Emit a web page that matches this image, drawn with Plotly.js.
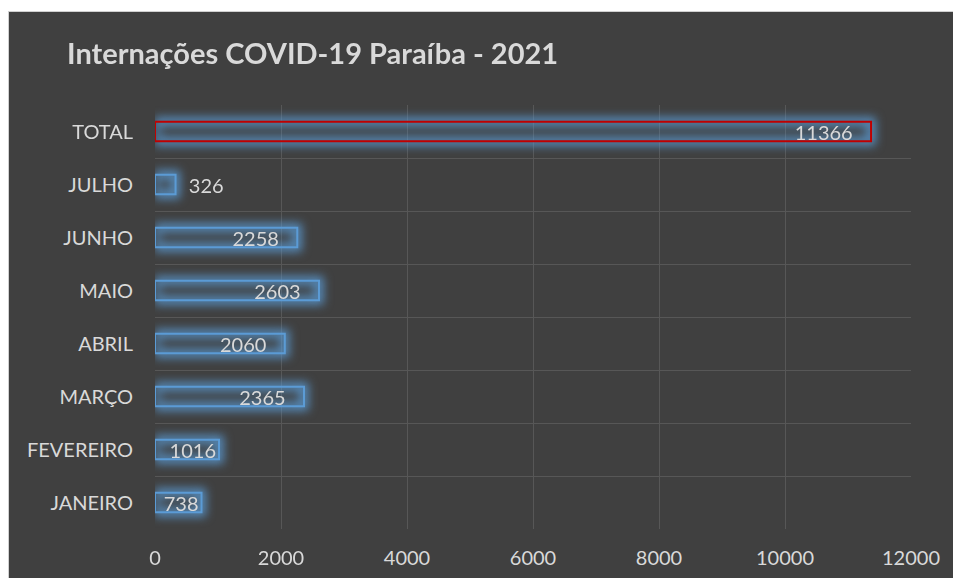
<!DOCTYPE html>
<html>
<head>
<meta charset="utf-8">
<script src="https://cdn.plot.ly/plotly-3.0.1.min.js"></script>
<style>
html, body { margin: 0; padding: 0; background: #ffffff; width: 953px; height: 578px; overflow: hidden; }
#chart { position: absolute; left: 8px; top: 11px; width: 945px; height: 567px; background: #404040; border-top: 1px solid #d0d0d0; border-left: 1px solid #d0d0d0; box-sizing: border-box; }
</style>
</head>
<body>
<div id="chart"></div>
<script>
const categories = ["JANEIRO", "FEVEREIRO", "MARÇO", "ABRIL", "MAIO", "JUNHO", "JULHO", "TOTAL"];
const values = [738, 1016, 2365, 2060, 2603, 2258, 326, 11366];
const xTicks = [0, 2000, 4000, 6000, 8000, 10000, 12000];
const titleText = "Internações COVID-19 Paraíba - 2021";

const textColor = "#d9d9d9";
const blue = "#5B9BD5";
const red = "#C00000";
const NB = "\u00a0";
const FONT = "Lato, sans-serif";

const lineColors = categories.map(c => c === "TOTAL" ? red : blue);
const textPositions = values.map(v => v < 500 ? "outside" : "inside");
const templates = values.map(v => {
  if (v < 500) return NB + NB + "%{x:d}";
  if (v < 1500) return "%{x:d}";
  return "%{x:d}" + NB + NB + NB;
});

const barW = 0.37;
const glow = {
  type: "bar", orientation: "h", y: categories, x: values, width: barW,
  marker: { color: "rgba(0,0,0,0)", line: { color: "rgba(91,155,213,0.85)", width: 9 } },
  hoverinfo: "skip", showlegend: false
};
const main = {
  type: "bar", orientation: "h", y: categories, x: values, width: barW,
  marker: { color: "rgba(0,0,0,0)", line: { color: lineColors, width: 2 } },
  texttemplate: templates,
  textposition: textPositions,
  insidetextanchor: "end",
  constraintext: "none",
  cliponaxis: false,
  textfont: { family: FONT, size: 20, color: textColor },
  insidetextfont: { family: FONT, size: 20, color: textColor },
  outsidetextfont: { family: FONT, size: 20, color: textColor },
  showlegend: false
};

const layout = {
  width: 945, height: 567,
  paper_bgcolor: "#404040",
  plot_bgcolor: "#404040",
  barmode: "overlay",
  margin: { l: 146, r: 43, t: 93, b: 50 },
  font: { family: FONT, color: textColor, size: 20 },
  title: {
    text: "<b>" + titleText + "</b>",
    font: { family: FONT, size: 29, color: textColor },
    xref: "container", yref: "container",
    x: 58 / 945, xanchor: "left",
    y: 1 - 42 / 567, yanchor: "middle"
  },
  xaxis: {
    range: [0, 12000],
    tickvals: xTicks,
    ticktext: xTicks.map(String),
    showgrid: true, gridcolor: "#575757", gridwidth: 1,
    zeroline: false, showline: false,
    ticks: "", ticklabelstandoff: 15,
    tickfont: { family: FONT, size: 20, color: textColor },
    fixedrange: true
  },
  yaxis: {
    type: "category",
    categoryorder: "array", categoryarray: categories,
    range: [-0.5, 7.5],
    tickson: "boundaries",
    showgrid: true, gridcolor: "#575757", gridwidth: 1,
    zeroline: false, showline: false,
    ticks: "", ticklabelstandoff: 21,
    tickfont: { family: FONT, size: 20, color: textColor },
    fixedrange: true
  }
};

Plotly.newPlot("chart", [glow, main], layout, { displayModeBar: false, staticPlot: true }).then(gd => {
  const traces = gd.querySelectorAll(".barlayer .trace");
  if (traces.length > 0) {
    traces[0].style.filter = "blur(5px)";
  }
});
</script>
</body>
</html>
